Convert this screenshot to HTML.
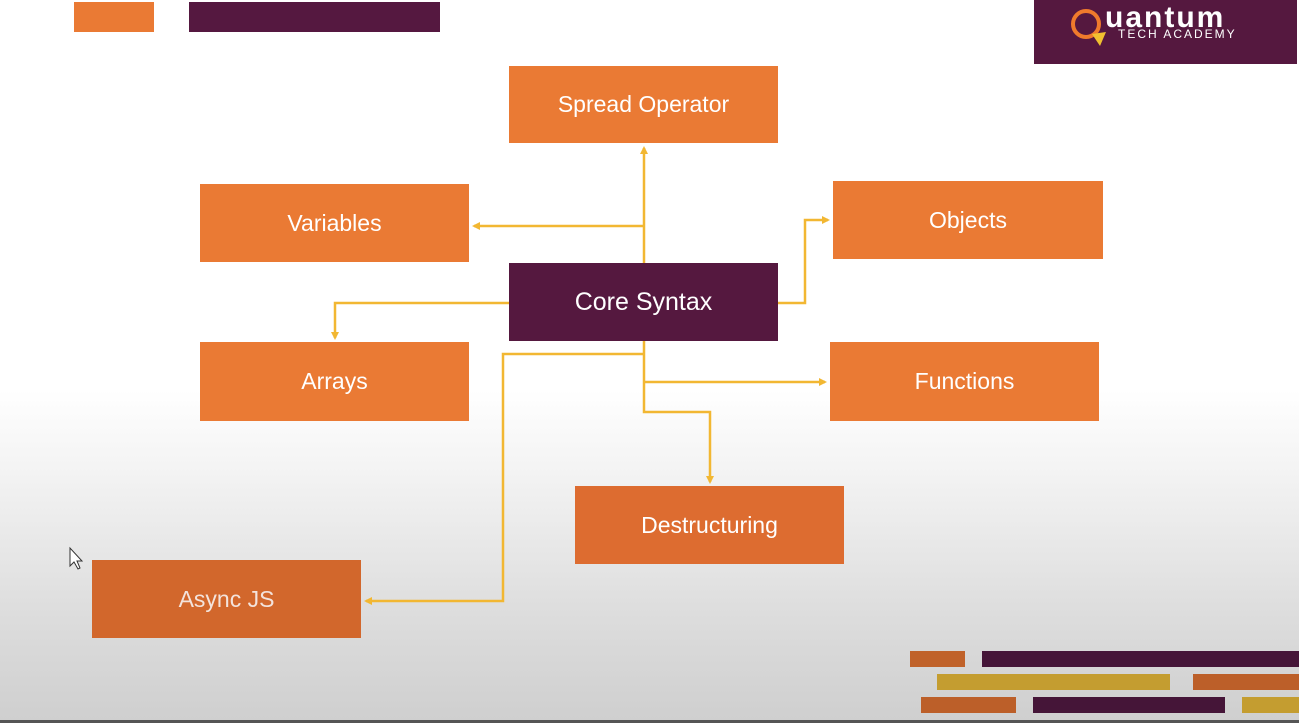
<!DOCTYPE html>
<html><head><style>
*{margin:0;padding:0;box-sizing:border-box}
body{width:1299px;height:723px;overflow:hidden;position:relative;font-family:"Liberation Sans",sans-serif;
background:linear-gradient(to bottom,#fff 0,#fff 390px,#f2f2f2 480px,#dcdcdc 620px,#cfcfcf 720px);}
.b{position:absolute;background:#ea7a34;color:#fff;font-size:23px;display:flex;align-items:center;justify-content:center}
.r{position:absolute}
</style></head><body>
<div class="r" style="left:74px;top:2px;width:80px;height:30px;background:#ea7a34"></div>
<div class="r" style="left:189px;top:2px;width:251px;height:30px;background:#551840"></div>
<div class="r" style="left:1034px;top:0;width:263px;height:64px;background:#55183f"></div>
<svg class="r" style="left:1066px;top:4px" width="50" height="44"><circle cx="20" cy="20" r="13" fill="none" stroke="#ef7a2c" stroke-width="4"/><polygon points="26,30 40,28 34,42" fill="#f0c030"/></svg>
<div class="r" style="left:1105px;top:1px;color:#fff;font-size:30px;font-weight:bold;letter-spacing:2px">uantum</div>
<div class="r" style="left:1118px;top:27px;color:#fff;font-size:12px;letter-spacing:2px">TECH ACADEMY</div>

<div class="b" style="left:509px;top:66px;width:269px;height:77px">Spread Operator</div>
<div class="b" style="left:200px;top:184px;width:269px;height:78px">Variables</div>
<div class="b" style="left:833px;top:181px;width:270px;height:78px">Objects</div>
<div class="b" style="left:509px;top:263px;width:269px;height:78px;background:#55183f;font-size:25px">Core Syntax</div>
<div class="b" style="left:200px;top:342px;width:269px;height:79px">Arrays</div>
<div class="b" style="left:830px;top:342px;width:269px;height:79px">Functions</div>
<div class="b" style="left:575px;top:486px;width:269px;height:78px;background:#dd6c30">Destructuring</div>
<div class="b" style="left:92px;top:560px;width:269px;height:78px;background:#d2672c;color:#f3e3dc">Async JS</div>

<svg class="r" style="left:0;top:0" width="1299" height="723">
<defs><marker id="a" markerWidth="8" markerHeight="8" refX="6" refY="4" orient="auto" markerUnits="userSpaceOnUse"><path d="M0,0 L8,4 L0,8z" fill="#f2b732"/></marker></defs>
<g fill="none" stroke="#f2b732" stroke-width="2.5">
<path d="M644,263 V148" marker-end="url(#a)"/>
<path d="M644,226 H474" marker-end="url(#a)"/>
<path d="M778,303 H805 V220 H828" marker-end="url(#a)"/>
<path d="M509,303 H335 V338" marker-end="url(#a)"/>
<path d="M644,341 V412 H710 V482" marker-end="url(#a)"/>
<path d="M644,382 H825" marker-end="url(#a)"/>
<path d="M644,354 H503 V601 H366" marker-end="url(#a)"/>
</g>
<path d="M70,548 V566 L74,562 L78,569 L80,568 L77,561 L82,561 Z" fill="#fff" stroke="#333" stroke-width="1"/>
</svg>

<div class="r" style="left:910px;top:651px;width:55px;height:16px;background:#c0622a"></div>
<div class="r" style="left:982px;top:651px;width:317px;height:16px;background:#451538"></div>
<div class="r" style="left:937px;top:674px;width:233px;height:16px;background:#c49d30"></div>
<div class="r" style="left:1193px;top:674px;width:106px;height:16px;background:#bc5f29"></div>
<div class="r" style="left:921px;top:697px;width:95px;height:16px;background:#bc5f29"></div>
<div class="r" style="left:1033px;top:697px;width:192px;height:16px;background:#451538"></div>
<div class="r" style="left:1242px;top:697px;width:57px;height:16px;background:#c49d30"></div>
<div class="r" style="left:0;top:720px;width:1299px;height:3px;background:#555"></div>
</body></html>
